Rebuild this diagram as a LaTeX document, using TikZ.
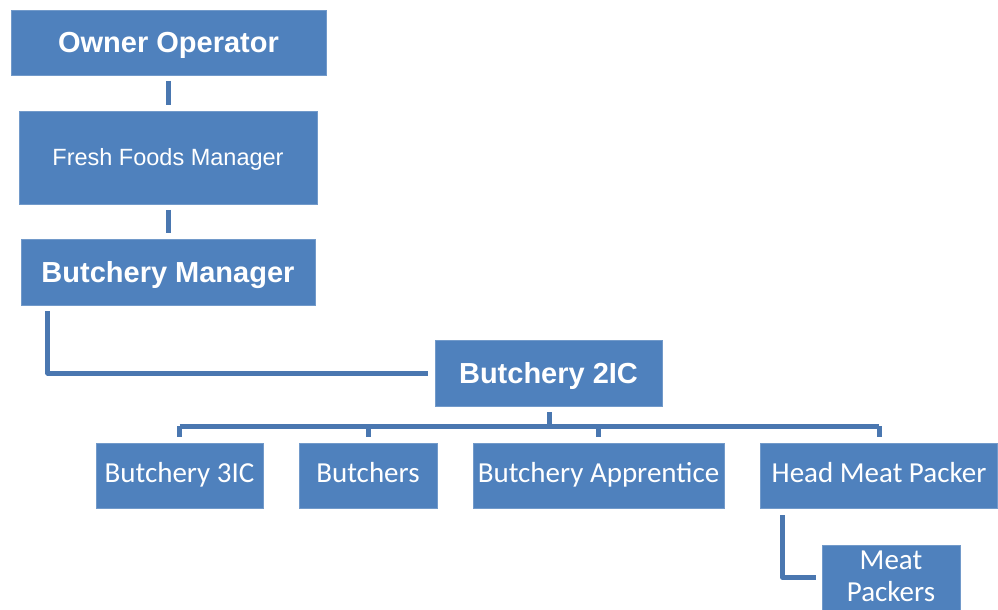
\documentclass[tikz,border=0pt]{standalone}
\usepackage{fontspec}
\setmainfont{Liberation Sans}
\newfontfamily\calfont{Carlito}
\definecolor{boxblue}{HTML}{4F81BD}
\definecolor{lineblue}{HTML}{4A77B0}
\begin{document}
\begin{tikzpicture}[x=1pt,y=-1pt,
  orgbox/.style={rectangle, fill=boxblue, draw=boxblue!80!white, line width=0.6pt, text=white, inner sep=0pt, align=center},
  boldlbl/.style={font=\fontsize{29}{32}\selectfont\bfseries, text height=20.8pt, text depth=0pt},
  plainlbl/.style={font=\fontsize{23.5}{27}\selectfont, text height=16.8pt, text depth=0pt},
  callbl/.style={font=\calfont\fontsize{29}{32}\selectfont, text height=18.7pt, text depth=4pt},
  conn/.style={draw=lineblue, line width=5pt, line join=round}]
\useasboundingbox (0,0) rectangle (998,610);
% boxes
\node[orgbox, boldlbl, minimum width=315pt, minimum height=65pt] (owner) at (168.5,42.5) {Owner Operator};
\node[orgbox, plainlbl, minimum width=298pt, minimum height=93pt] (ffm) at (168,157.5) {Fresh Foods Manager};
\node[orgbox, boldlbl, minimum width=294pt, minimum height=66pt] (bm) at (168,272) {Butchery Manager};
\node[orgbox, boldlbl, minimum width=227pt, minimum height=66pt] (b2ic) at (548.5,373) {Butchery 2IC};
\node[orgbox, callbl, minimum width=167pt, minimum height=65pt] (b3ic) at (179.5,475.5) {Butchery 3IC};
\node[orgbox, callbl, minimum width=138pt, minimum height=65pt] (butchers) at (368,475.5) {Butchers};
\node[orgbox, callbl, minimum width=251pt, minimum height=65pt] (appr) at (598.5,475.5) {Butchery Apprentice};
\node[orgbox, callbl, minimum width=237pt, minimum height=65pt] (hmp) at (879,475.5) {Head Meat Packer};
\node[orgbox, minimum width=138pt, minimum height=65pt] (mp) at (891,577.5) {};
\node[font=\calfont\fontsize{29}{32}\selectfont, text=white, align=center, inner sep=0pt] (mptext) at (891,576) {Meat\\Packers};
% connectors
\coordinate (bus) at (549,426);
\draw[conn, shorten <=5.5pt, shorten >=5.5pt] (owner.south -| 168,0) -- (ffm.north -| 168,0);
\draw[conn, shorten <=5.5pt, shorten >=5.5pt] (ffm.south -| 168,0) -- (bm.north -| 168,0);
\draw[conn] ([xshift=27pt,yshift=-6pt]bm.south west) |- ([xshift=-7pt]b2ic.west);
\draw[conn, shorten <=6pt] (b2ic.south -| bus) -- (bus);
\draw[conn] (bus -| b3ic.north) -- (bus -| hmp.north);
\draw[conn, shorten >=6pt] (bus -| b3ic.north) -- (b3ic.north);
\draw[conn, shorten >=6pt] (bus -| butchers.north) -- (butchers.north);
\draw[conn, shorten >=6pt] (bus -| appr.north) -- (appr.north);
\draw[conn, shorten >=6pt] (bus -| hmp.north) -- (hmp.north);
\draw[conn] ([xshift=22.5pt,yshift=-7pt]hmp.south west) |- ([xshift=-6pt]mp.west);
\end{tikzpicture}
\end{document}
